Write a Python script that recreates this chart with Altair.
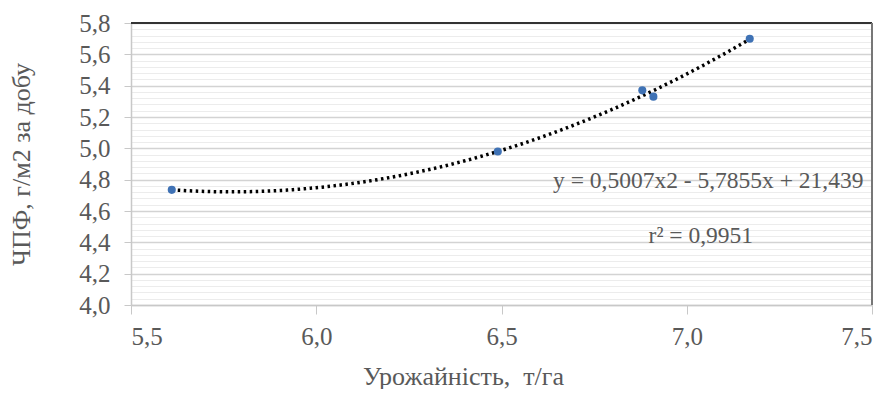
import altair as alt
import pandas as pd

# data
yield_t_ha = [5.61, 6.49, 6.88, 6.91, 7.17]
chpf = [4.735, 4.98, 5.37, 5.33, 5.70]

x_ticks = [5.5, 6.0, 6.5, 7.0, 7.5]
y_major = [4.0, 4.2, 4.4, 4.6, 4.8, 5.0, 5.2, 5.4, 5.6, 5.8]
y_minor_steps = [0.0, 0.04, 0.08, 0.12, 0.16]
y_values = sorted({round(a + b, 2) for a in y_major[:-1] for b in y_minor_steps} | {5.8})

eq_text = ["y = 0,5007x2 - 5,7855x + 21,439", "r² = 0,9951"]
eq_x = [7.058, 7.038]
eq_y = [4.79, 4.44]

df = pd.DataFrame({"x": yield_t_ha, "y": chpf})
ann = pd.DataFrame({"x": eq_x, "y": eq_y, "t": eq_text})

FONT = "Liberation Serif"
GREY = "#595959"
W, H = 741, 282

is_major = "abs(round(datum.value*5) - datum.value*5) < 0.001"

xs = alt.Scale(domain=[5.5, 7.5], nice=False, zero=False)
ys = alt.Scale(domain=[4.0, 5.8], nice=False, zero=False)

x_enc = alt.X("x:Q", scale=xs, title="Урожайність,\u00a0 т/га",
              axis=alt.Axis(values=x_ticks, grid=False, tickCount=20,
                            labelExpr="replace(format(datum.value, '.1f'), '.', ',')",
                            labelFont=FONT, labelFontSize=25, labelColor=GREY,
                            titleFont=FONT, titleFontSize=26, titleColor=GREY,
                            titleFontWeight="normal", titlePadding=14, titleX=332,
                            domainColor="#c8c8c8", domainWidth=1.5,
                            tickColor="#c8c8c8", tickSize=9, labelPadding=10))
y_enc = alt.Y("y:Q", scale=ys, title="ЧПФ, г/м2 за добу",
              axis=alt.Axis(values=y_values, tickCount=200,
                            labelExpr=f"({is_major}) ? replace(format(datum.value, '.1f'), '.', ',') : ''",
                            labelFont=FONT, labelFontSize=25, labelColor=GREY,
                            titleFont=FONT, titleFontSize=26, titleColor=GREY,
                            titleFontWeight="normal", titlePadding=44,
                            domainColor="#c8c8c8", domainWidth=1.5,
                            gridColor={"condition": {"test": is_major, "value": "#d3d3d3"}, "value": "#ececec"},
                            gridWidth={"condition": {"test": is_major, "value": 1.5}, "value": 1},
                            tickColor={"condition": {"test": is_major, "value": "#c8c8c8"}, "value": "transparent"},
                            tickSize=7, labelPadding=14, labelOverlap=False))

base = alt.Chart(df)

trend = base.transform_regression("x", "y", method="poly", order=2, extent=[5.61, 7.17]).mark_line(
    color="black", strokeDash=[2.5, 3.5], strokeWidth=3.5, clip=True
).encode(x=x_enc, y=y_enc)

points = base.mark_circle(size=65, color="#3f72b5", opacity=1).encode(x="x:Q", y="y:Q")

text = alt.Chart(ann).mark_text(font=FONT, fontSize=23.5, color=GREY).encode(
    x="x:Q", y="y:Q", text="t:N")

top_rule = alt.Chart(df).mark_rule(color="#333333", strokeWidth=2).encode(
    x=alt.value(0), x2=alt.value(W), y=alt.value(0))
right_rule = alt.Chart(df).mark_rule(color="#777777", strokeWidth=2).encode(
    x=alt.value(W), y=alt.value(0), y2=alt.value(H))

chart = alt.layer(trend, points, text, top_rule, right_rule).properties(
    width=W, height=H, background="white",
    padding={"top": 3, "left": 0, "right": 5, "bottom": 0}
).configure_view(stroke=None)

chart.save("out.html", embed_options={"renderer": "svg", "actions": False})
